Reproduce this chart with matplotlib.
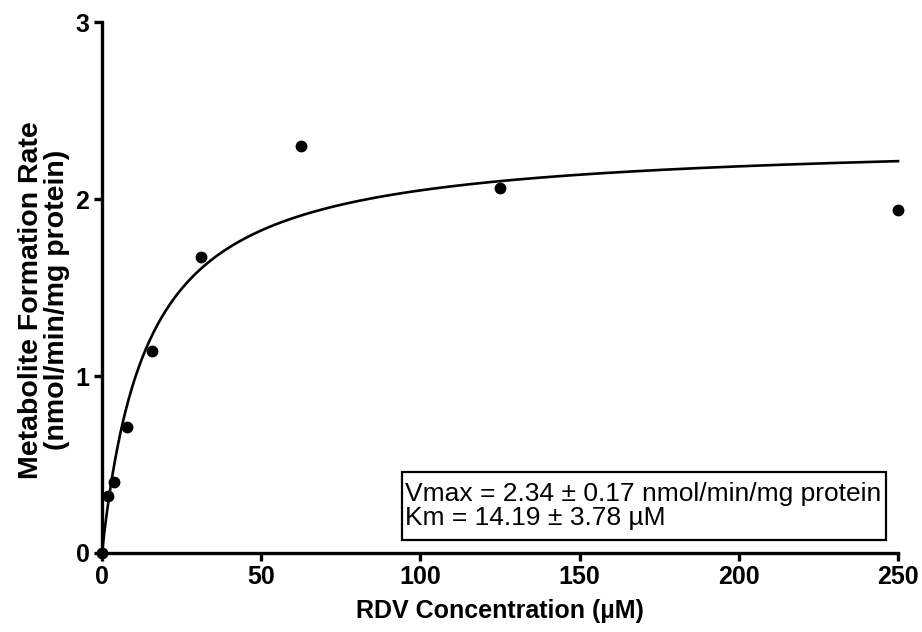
import numpy as np
import matplotlib
matplotlib.use("Agg")
import matplotlib.pyplot as plt
from matplotlib.patches import Rectangle

plt.rcParams['font.family'] = ['Liberation Sans', 'DejaVu Sans']

# measured points (RDV concentration in uM, rate in nmol/min/mg protein)
conc = [0, 1.95, 3.9, 7.8, 15.6, 31.25, 62.5, 125, 250]
rate = [0.0, 0.32, 0.40, 0.71, 1.14, 1.67, 2.30, 2.06, 1.94]

# Michaelis-Menten fit parameters shown in the box
vmax = 2.34
km = 14.19

fig = plt.figure(figsize=(9.22, 6.32), dpi=100)
ax = fig.add_axes([0.1106, 0.125, 0.8634, 0.840])

xfit = np.linspace(0, 250, 600)
ax.plot(xfit, vmax * xfit / (km + xfit), color='black', lw=1.9, clip_on=False, zorder=3)
ax.plot(conc, rate, 'o', color='black', ms=7.5, clip_on=False, zorder=4)

ax.set_xlim(0, 250)
ax.set_ylim(0, 3)
ax.set_xticks([0, 50, 100, 150, 200, 250])
ax.set_yticks([0, 1, 2, 3])

for s in ['top', 'right']:
    ax.spines[s].set_visible(False)
for s in ['left', 'bottom']:
    ax.spines[s].set_linewidth(2.4)
ax.tick_params(direction='out', length=6, width=2.4, labelsize=18, pad=3)
for lab in ax.get_xticklabels() + ax.get_yticklabels():
    lab.set_fontweight('bold')

ax.set_xlabel('RDV Concentration (\u00b5M)', fontsize=18, fontweight='bold', labelpad=7)
ax.set_ylabel('Metabolite Formation Rate\n(nmol/min/mg protein)', fontsize=20.5,
              fontweight='bold', linespacing=1.0)
ax.yaxis.set_label_coords(-0.040, 0.476)

# fit-parameter box
ax.add_patch(Rectangle((0.377, 0.0245), 0.608, 0.128, transform=ax.transAxes,
                       facecolor='white', edgecolor='black', lw=1.6, zorder=5))
ax.text(0.381, 0.088,
        'Vmax = 2.34 \u00b1 0.17 nmol/min/mg protein\nKm = 14.19 \u00b1 3.78 \u00b5M',
        transform=ax.transAxes, fontsize=19, va='center', ha='left', linespacing=1.0,
        zorder=6)

fig.savefig('out.png', dpi=100)
